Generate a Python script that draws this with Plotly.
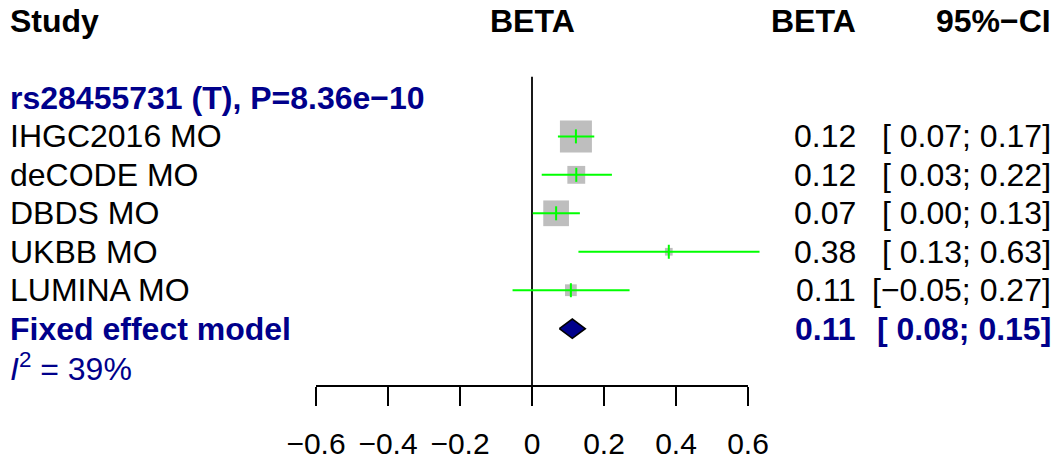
import plotly.graph_objects as go
import math

# ---------------- data ----------------
snp_label = "rs28455731 (T), P=8.36e\u221210"
studies = ["IHGC2016 MO", "deCODE MO", "DBDS MO", "UKBB MO", "LUMINA MO"]
beta = [0.122, 0.123, 0.067, 0.380, 0.108]
lower = [0.072, 0.027, 0.002, 0.129, -0.054]
upper = [0.173, 0.222, 0.133, 0.632, 0.271]
weights = [46.5, 14.5, 30.0, 2.7, 6.3]   # fixed-effect weights (%)
fixed_label = "Fixed effect model"
fixed_beta = 0.112
fixed_lower = 0.076
fixed_upper = 0.148
i2 = 39
ref_value = 0
tick_vals = [-0.6, -0.4, -0.2, 0, 0.2, 0.4, 0.6]
tick_text = ["\u22120.6", "\u22120.4", "\u22120.2", "0", "0.2", "0.4", "0.6"]

# ---------------- layout constants ----------------
W, H = 1064, 461
FONT = "Liberation Sans, Arial, Helvetica, sans-serif"
FS = 32
NAVY = "#00008B"
GREEN = "#00FF00"
BOX = "#BEBEBE"

row_px0 = 21.0      # pixel y of row 0
row_h = 38.46       # pixel height per row
x0_px = 532.0       # pixel x of value 0
px_per_unit = 360.0

x_range = [(0 - x0_px) / px_per_unit, (W - x0_px) / px_per_unit]
y_range = [(H - row_px0) / row_h, (0 - row_px0) / row_h]

study_rows = [3 + i for i in range(len(studies))]
snp_row = 2
fixed_row = 3 + len(studies)
het_row = fixed_row + 1
axis_px = 386

def fmt(v):
    s = f"{v:.2f}"
    return s.replace("-", "\u2212") if v < 0 else " " + s

def ci(lo, hi):
    return f"[{fmt(lo)};{fmt(hi)}]"

fig = go.Figure()

# dummy trace for the drawn axis (added first so it sits underneath)
fig.add_trace(go.Scatter(x=[tick_vals[0], tick_vals[-1]], y=[None, None],
                         xaxis="x2", yaxis="y", mode="markers",
                         hoverinfo="skip", showlegend=False))

# boxes
max_w = max(weights)
fig.add_trace(go.Scatter(
    x=beta, y=study_rows, mode="markers",
    marker=dict(symbol="square", color=BOX, opacity=1,
                size=[32 * math.sqrt(w / max_w) for w in weights],
                line=dict(width=0)),
    hoverinfo="skip", showlegend=False))

# CI lines
xs, ys = [], []
for lo, hi, r in zip(lower, upper, study_rows):
    xs += [lo, hi, None]
    ys += [r, r, None]
fig.add_trace(go.Scatter(x=xs, y=ys, mode="lines",
                         line=dict(color=GREEN, width=2),
                         hoverinfo="skip", showlegend=False))
# estimate ticks
fig.add_trace(go.Scatter(
    x=beta, y=study_rows, mode="markers",
    marker=dict(symbol="line-ns", size=10, line=dict(color=GREEN, width=2)),
    hoverinfo="skip", showlegend=False))

# diamond
dh = 0.25
fig.add_trace(go.Scatter(
    x=[fixed_lower, fixed_beta, fixed_upper, fixed_beta, fixed_lower],
    y=[fixed_row, fixed_row - dh, fixed_row, fixed_row + dh, fixed_row],
    mode="lines", fill="toself", fillcolor=NAVY,
    line=dict(color="black", width=1.6),
    hoverinfo="skip", showlegend=False))

# reference line
fig.add_shape(type="line", xref="x", yref="y",
              x0=ref_value, x1=ref_value,
              y0=1.45, y1=(axis_px - row_px0) / row_h,
              line=dict(color="black", width=1.8), layer="below")

ann = []
def add_text(txt, px, row, anchor, color="black", bold=False):
    ann.append(dict(text=f"<b>{txt}</b>" if bold else txt,
                    x=px / W, xref="paper", y=row, yref="y",
                    xanchor=anchor, yanchor="middle", showarrow=False,
                    font=dict(family=FONT, size=FS, color=color)))

# headers
add_text("Study", 8, 0, "left", bold=True)
add_text("BETA", 532, 0, "center", bold=True)
add_text("BETA", 858, 0, "right", bold=True)
add_text("95%\u2212CI", 1053, 0, "right", bold=True)

add_text(snp_label, 8, snp_row, "left", color=NAVY, bold=True)
for name, b, lo, hi, r in zip(studies, beta, lower, upper, study_rows):
    add_text(name, 8, r, "left")
    add_text(f"{b:.2f}", 858, r, "right")
    add_text(ci(lo, hi), 1053, r, "right")

add_text(fixed_label, 8, fixed_row, "left", color=NAVY, bold=True)
add_text(f"{fixed_beta:.2f}", 858, fixed_row, "right", color=NAVY, bold=True)
add_text(ci(fixed_lower, fixed_upper), 1053, fixed_row, "right", color=NAVY, bold=True)
add_text(f"<i>I</i><sup>2</sup> = {i2}%", 8, het_row, "left", color=NAVY)

fig.update_layout(
    width=W, height=H,
    margin=dict(l=0, r=0, t=0, b=0, autoexpand=False),
    paper_bgcolor="white", plot_bgcolor="rgba(0,0,0,0)",
    xaxis=dict(range=x_range, visible=False, domain=[0, 1], automargin=False),
    yaxis=dict(range=y_range, visible=False, domain=[0, 1], automargin=False),
    xaxis2=dict(domain=[(x0_px + tick_vals[0] * px_per_unit) / W,
                        (x0_px + tick_vals[-1] * px_per_unit) / W],
                range=[tick_vals[0], tick_vals[-1]],
                anchor="free", position=(H - axis_px) / H,
                automargin=False,
                showline=True, linecolor="black", linewidth=1.8,
                ticks="outside", ticklen=19, tickwidth=1.8, tickcolor="black",
                tickvals=tick_vals, ticktext=tick_text,
                ticklabelstandoff=12,
                tickfont=dict(family=FONT, size=30, color="black"),
                showgrid=False, zeroline=False),
    annotations=ann,
    showlegend=False,
)

fig.write_html("out.html", config={"displayModeBar": False},
               post_script="document.body.style.margin='0px';document.body.style.overflow='hidden';")
